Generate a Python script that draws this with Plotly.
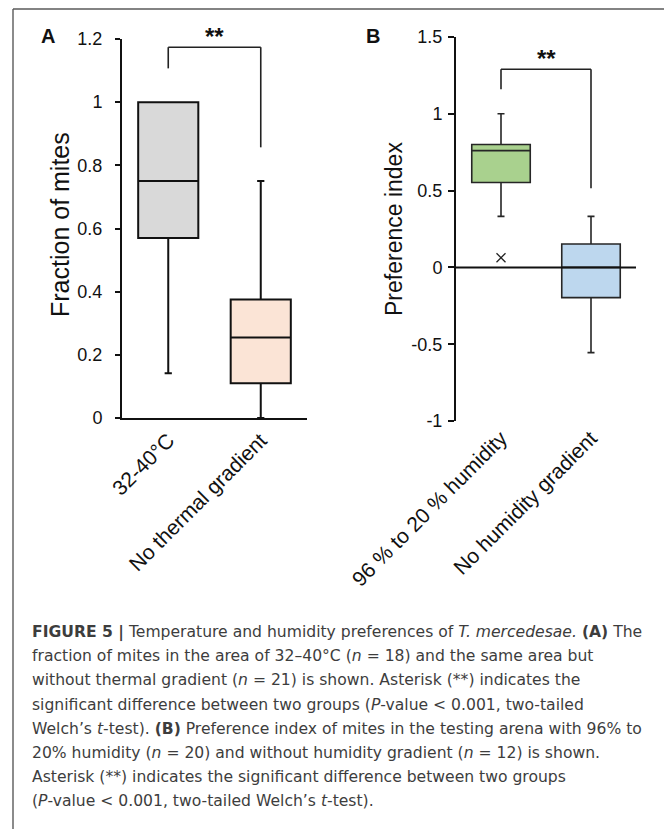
import plotly.graph_objects as go

# The page body has an 8px margin, so the figure is drawn 8px smaller and
# reference pixel positions are shifted by 8px when converted to paper units.
OFF = 8
W, H = 672 - OFF, 829 - OFF

# ---------------- Panel A data ----------------
cats_a = ["32-40°C", "No thermal gradient"]
q1_a = [0.57, 0.11]
med_a = [0.75, 0.255]
q3_a = [1.0, 0.375]
lo_a = [0.142, 0.0]
hi_a = [1.0, 0.75]
fill_a = ["#d9d9d9", "#fbe4d6"]
bracket_a = [1.107, 1.174, 0.857]   # left end, top, right end
ytick_a = [0, 0.2, 0.4, 0.6, 0.8, 1, 1.2]
ytext_a = ["0", "0.2", "0.4", "0.6", "0.8", "1", "1.2"]

# ---------------- Panel B data ----------------
cats_b = ["96 % to 20 % humidity", "No humidity gradient"]
q1_b = [0.553, -0.197]
med_b = [0.76, 0.0]
q3_b = [0.80, 0.152]
lo_b = [0.332, -0.555]
hi_b = [1.0, 0.332]
fill_b = ["#a9d18e", "#bdd7ee"]
outlier_b = [0.063]
bracket_b = [1.16, 1.29, 0.516]
ytick_b = [-1, -0.5, 0, 0.5, 1, 1.5]
ytext_b = ["-1", "-0.5", "0", "0.5", "1", "1.5"]

caption_lines = [
    "<b>FIGURE 5 |</b> Temperature and humidity preferences of <i>T. mercedesae.</i> <b>(A)</b> The",
    "fraction of mites in the area of 32–40°C (<i>n</i> = 18) and the same area but",
    "without thermal gradient (<i>n</i> = 21) is shown. Asterisk (**) indicates the",
    "significant difference between two groups (<i>P</i>-value &lt; 0.001, two-tailed",
    "Welch’s <i>t</i>-test). <b>(B)</b> Preference index of mites in the testing arena with 96% to",
    "20% humidity (<i>n</i> = 20) and without humidity gradient (<i>n</i> = 12) is shown.",
    "Asterisk (**) indicates the significant difference between two groups",
    "(<i>P</i>-value &lt; 0.001, two-tailed Welch’s <i>t</i>-test).",
]

FONT = "Liberation Sans, Arial, sans-serif"
CAPFONT = "DejaVu Sans, Liberation Sans, sans-serif"


def px(x):
    return (x - OFF) / W


def py(y):
    return 1 - (y - OFF) / H


fig = go.Figure()

for i in range(2):
    fig.add_trace(go.Box(
        x=[cats_a[i]], q1=[q1_a[i]], median=[med_a[i]], q3=[q3_a[i]],
        lowerfence=[lo_a[i]], upperfence=[hi_a[i]],
        fillcolor=fill_a[i], line=dict(color="#111111", width=2),
        width=0.65, whiskerwidth=0.12, boxpoints=False,
        xaxis="x", yaxis="y", showlegend=False, hoverinfo="skip",
    ))

for i in range(2):
    fig.add_trace(go.Box(
        x=[cats_b[i]], q1=[q1_b[i]], median=[med_b[i]], q3=[q3_b[i]],
        lowerfence=[lo_b[i]], upperfence=[hi_b[i]],
        fillcolor=fill_b[i], line=dict(color="#262626", width=1.6),
        width=0.65, whiskerwidth=0.12, boxpoints=False,
        xaxis="x2", yaxis="y2", showlegend=False, hoverinfo="skip",
    ))

fig.add_trace(go.Scatter(
    x=[cats_b[0]] * len(outlier_b), y=outlier_b, mode="markers",
    marker=dict(symbol="x-thin", size=9, line=dict(color="#222222", width=1.3)),
    xaxis="x2", yaxis="y2", showlegend=False, hoverinfo="skip",
))

# significance brackets
for (xr, yr, br) in [("x", "y", bracket_a), ("x2", "y2", bracket_b)]:
    pts = [(0, br[0]), (0, br[1]), (1, br[1]), (1, br[2])]
    for (xa, ya), (xb, yb) in zip(pts[:-1], pts[1:]):
        fig.add_shape(type="line", xref=xr, yref=yr, x0=xa, y0=ya, x1=xb, y1=yb,
                      line=dict(color="#222222", width=1.6))
    fig.add_annotation(xref=xr, yref=yr, x=0.5, y=br[1], text="<b>**</b>",
                       showarrow=False, xanchor="center", yanchor="bottom", yshift=-5,
                       font=dict(family=FONT, size=24, color="#111111"))

# zero line in panel B
fig.add_shape(type="line", xref="x2 domain", yref="y2", x0=0, x1=1, y0=0, y1=0,
              line=dict(color="#111111", width=2))

axis_common = dict(showgrid=False, zeroline=False, ticks="outside", automargin=False,
                   tickfont=dict(family=FONT, size=18, color="#111111"),
                   linecolor="#111111", linewidth=2, tickcolor="#111111", tickwidth=2)

fig.update_layout(
    width=W, height=H, margin=dict(l=0, r=0, t=0, b=0, pad=0),
    paper_bgcolor="white", plot_bgcolor="white",
    font=dict(family=FONT),
    xaxis=dict(domain=[px(122), px(307)], anchor="y", type="category",
               categoryarray=cats_a, range=[-0.5, 1.5], showgrid=False,
               zeroline=False, showline=True, linecolor="#111111", linewidth=2,
               ticks="", tickangle=-45, automargin=False,
               tickfont=dict(family=FONT, size=21, color="#111111")),
    yaxis=dict(domain=[py(418), py(39)], anchor="x", range=[0, 1.2],
               tickvals=ytick_a, ticktext=ytext_a, ticklen=5, showline=True,
               ticklabelstandoff=9, **axis_common),
    xaxis2=dict(domain=[px(456), px(636)], anchor="y2", type="category",
                categoryarray=cats_b, range=[-0.5, 1.5], showgrid=False,
                zeroline=False, showline=False, ticks="", tickangle=-45,
                automargin=False,
                tickfont=dict(family=FONT, size=21, color="#111111")),
    yaxis2=dict(domain=[py(421), py(37)], anchor="x2", range=[-1, 1.5],
                tickvals=ytick_b, ticktext=ytext_b, ticklen=6, showline=True,
                ticklabelstandoff=2, **axis_common),
)

# axis titles
fig.add_annotation(xref="paper", yref="paper", x=px(60), y=py(225),
                   xanchor="center", yanchor="middle",
                   text="Fraction of mites", textangle=-90, showarrow=False,
                   font=dict(family=FONT, size=25, color="#111111"))
fig.add_annotation(xref="paper", yref="paper", x=px(394), y=py(229),
                   xanchor="center", yanchor="middle",
                   text="Preference index", textangle=-90, showarrow=False,
                   font=dict(family=FONT, size=23, color="#111111"))

# panel letters
fig.add_annotation(xref="paper", yref="paper", x=px(48), y=py(36), text="<b>A</b>",
                   xanchor="center", yanchor="middle",
                   showarrow=False, font=dict(family=FONT, size=20, color="#111111"))
fig.add_annotation(xref="paper", yref="paper", x=px(373), y=py(36), text="<b>B</b>",
                   xanchor="center", yanchor="middle",
                   showarrow=False, font=dict(family=FONT, size=20, color="#111111"))

# caption
for k, line in enumerate(caption_lines):
    fig.add_annotation(xref="paper", yref="paper", x=px(30), y=py(632 + 24.2 * k),
                       xanchor="left", yanchor="middle", text=line, showarrow=False,
                       font=dict(family=CAPFONT, size=15.6, color="#3d3d3d"))

# outer frame (top, left, right edges)
frame = [(13, 9, 670, 9), (13, 9, 13, 840), (670, 9, 670, 840)]
for (x0, y0, x1, y1) in frame:
    fig.add_shape(type="line", xref="paper", yref="paper",
                  x0=px(x0), y0=py(y0), x1=px(x1), y1=py(y1),
                  line=dict(color="#5a5a5a", width=1.4), layer="above")

fig.write_html("out.html")
